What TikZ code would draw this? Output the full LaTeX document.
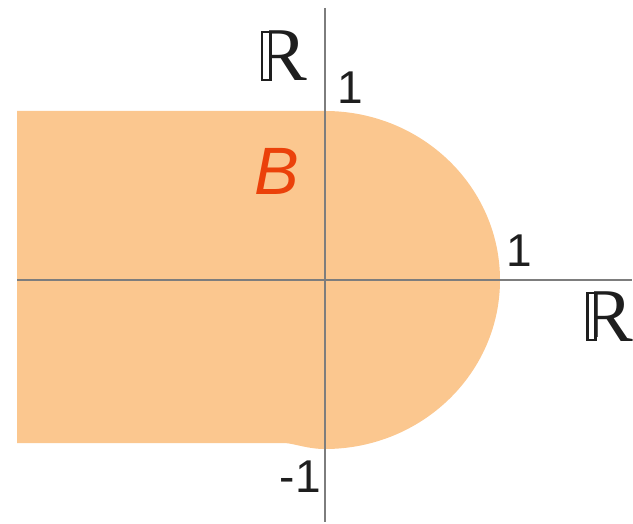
\documentclass[tikz,border=0pt]{standalone}
\usepackage{fontspec}
\setmainfont{Liberation Sans}
\newfontfamily\serifR{Liberation Serif}
\definecolor{regionfill}{RGB}{251,199,143}
\definecolor{labelB}{RGB}{235,65,10}
\definecolor{axisgrey}{RGB}{125,125,125}
\definecolor{glyphblack}{RGB}{30,30,30}
% double-struck R: serif R whose stem is drawn as an outline
\newcommand\doubleR[3]{%
  \begin{scope}[shift={(#2,#3)}]
    \fill[glyphblack] (4.4,0) rectangle (15.4,-49.9);
    \fill[white] (6.9,-2) rectangle (12.2,-47.9);
    \begin{scope}
      \clip (12.2,-60) -- (80,-60) -- (80,6) -- (24,6) -- (24,-4.8) -- (12.2,-4.8) -- cycle;
      \node[inner sep=0pt,anchor=base west,text=glyphblack,font=\serifR\fontsize{76}{76}\selectfont] (#1) at (0,0) {R};
    \end{scope}
  \end{scope}}
\begin{document}
\begin{tikzpicture}[x=1pt,y=-1pt,
  axisline/.style={draw=axisgrey,line width=1.5pt},
  numlabel/.style={inner sep=0pt,text=glyphblack,font=\fontsize{46}{46}\selectfont}]
\useasboundingbox (0,0) rectangle (633,524);
% region B
\fill[regionfill] (17,111) -- (325,111) -- (325,449) .. controls (308,449) and (296,444) .. (285,443) -- (17,443) -- cycle;
\fill[regionfill] (325,111) arc[start angle=-90,end angle=90,x radius=175,y radius=169] -- cycle;
% axes
\coordinate (xl) at (17,280);
\coordinate (xr) at (632,280);
\coordinate (yt) at (325,8);
\coordinate (yb) at (325,522);
\draw[axisline] (xl) -- (xr);
\draw[axisline] (yt) -- (yb);
% labels
\doubleR{Ry}{256.3}{81}
\doubleR{Rx}{582}{341.5}
\node[numlabel,anchor=base] (one) at (350,104) {1};
\node[numlabel,anchor=base] (onex) at (519,267) {1};
\node[numlabel,anchor=base east] (mone) at (321,492) {-1};
\node[inner sep=0pt,anchor=base,text=labelB,font=\fontsize{67}{67}\selectfont\itshape] (B) at (277,195) {B};
\end{tikzpicture}
\end{document}
